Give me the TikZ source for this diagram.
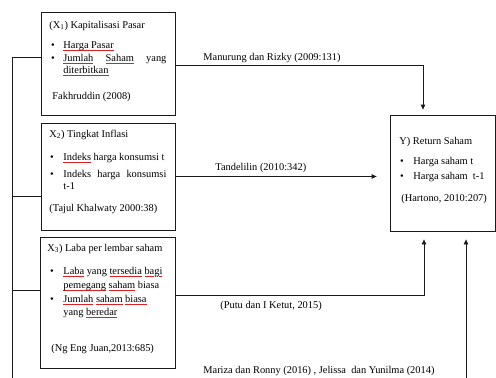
\documentclass[tikz,border=0pt]{standalone}
\usepackage{fontspec}
\setmainfont{Liberation Serif}
\usetikzlibrary{arrows.meta, positioning, calc}
\definecolor{cline}{HTML}{1A1A1A}
\definecolor{cwave}{HTML}{E02020}
\newsavebox\wavebox
\newcommand\redwave[1]{\sbox\wavebox{#1}\rlap{\textcolor{cwave}{\hbox to\wd\wavebox{\xleaders\hbox{\rule[-2.7pt]{0.9pt}{0.45pt}\rule[-2.2pt]{0.9pt}{0.45pt}}\hfil}}}\usebox\wavebox}
\tikzset{
  every picture/.style={font=\fontsize{10.4}{12}\selectfont, line width=0.8pt},
  box/.style={draw=cline, rectangle, inner sep=0pt},
  txt/.style={anchor=base west, inner sep=0pt},
  bul/.style={anchor=base, inner sep=0pt},
  arrow/.style={-{Triangle[length=5pt, width=4.5pt]}, draw=cline},
  link/.style={draw=cline},
}

\begin{document}
\begin{tikzpicture}[x=1pt, y=-1pt]
  \useasboundingbox (0,0) rectangle (496,378);
  % boxes
  \node[box, minimum width=134pt, minimum height=103pt] (x1) at (108,63.5) {};
  \node[box, minimum width=134pt, minimum height=107pt] (x2) at (108,176.5) {};
  \node[box, minimum width=135pt, minimum height=131pt] (x3) at (107.5,302.5) {};
  \node[box, minimum width=105pt, minimum height=116pt] (y) at (442.5,173) {};
  % X1
  \node[txt] (x1t) at (49,28) {(X\textsubscript{1}) Kapitalisasi Pasar};
  \node[bul] (x1b1) at (53,48) {\textbullet};
  \node[txt] (x1a) at (63,48) {\redwave{Harga Pasar}};
  \node[bul] (x1b2) at (53,61) {\textbullet};
  \node[txt] (x1b) at (63,61) {\hbox to 103pt{\redwave{Jumlah}\hfill\redwave{Saham}\hfill yang}};
  \node[txt] (x1c) at (63,73) {\redwave{diterbitkan}};
  \node[txt] (x1s) at (52,99) {Fakhruddin (2008)};
  % X2
  \node[txt] (x2t) at (49,137) {X\textsubscript{2}) Tingkat Inflasi};
  \node[bul] (x2b1) at (52,160) {\textbullet};
  \node[txt] (x2a) at (63,160) {\redwave{Indeks} harga konsumsi t};
  \node[bul] (x2b2) at (52,177) {\textbullet};
  \node[txt] (x2b) at (63,177) {\hbox to 103pt{Indeks\hfill harga\hfill konsumsi}};
  \node[txt] (x2c) at (63,189) {t-1};
  \node[txt] (x2s) at (49,211) {(Tajul Khalwaty 2000:38)};
  % X3
  \node[txt] (x3t) at (47,251) {X\textsubscript{3}) Laba per lembar saham};
  \node[bul] (x3b1) at (52,274) {\textbullet};
  \node[txt] (x3a) at (63,274) {\redwave{Laba} yang \redwave{tersedia} \redwave{bagi}};
  \node[txt] (x3b) at (63,288) {\redwave{pemegang} \redwave{saham} biasa};
  \node[bul] (x3b2) at (52,302) {\textbullet};
  \node[txt] (x3c) at (63,302) {\redwave{Jumlah} \redwave{saham} \redwave{biasa}};
  \node[txt] (x3d) at (63,315) {yang \redwave{beredar}};
  \node[txt] (x3s) at (51,351) {(Ng Eng Juan,2013:685)};
  % Y
  \node[txt] (yt) at (399,144) {Y) Return Saham};
  \node[bul] (yb1) at (402,164) {\textbullet};
  \node[txt] (ya) at (413,164) {Harga saham t};
  \node[bul] (yb2) at (402,179) {\textbullet};
  \node[txt] (yb) at (413,179) {Harga saham~ t-1};
  \node[txt] (ys) at (401,201) {(Hartono, 2010:207)};
  % labels
  \node[txt] (l1) at (203,60) {Manurung dan Rizky (2009:131)};
  \node[txt] (l2) at (215,170) {Tandelilin (2010:342)};
  \node[txt] (l3) at (220,308) {(Putu dan I Ketut, 2015)};
  \node[txt] (l4) at (203,373) {Mariza dan Ronny (2016) , Jelissa~ dan Yunilma (2014)};
  % connectors
  \coordinate (b1) at (12,57);
  \coordinate (b2) at (12,196);
  \coordinate (b3) at (12,290);
  \coordinate (b4) at (12,378);
  \draw[link] (b4) -- (b1) -- (b1 -| x1.west);
  \draw[link] (b2) -- (b2 -| x2.west);
  \draw[link] (b3) -- (b3 -| x3.west);
  \coordinate (r1) at (423,65);
  \coordinate (r3) at (424,295);
  \coordinate (r4) at (466,378);
  \draw[arrow, shorten >=5pt] (r1 -| x1.east) -- (r1) -- (r1 |- y.north);
  \draw[arrow, shorten >=13pt] (x2.east) -- (x2.east -| y.west);
  \draw[arrow, shorten >=8pt] (r3 -| x3.east) -- (r3) -- (r3 |- y.south);
  \draw[arrow, shorten >=8pt] (r4) -- (r4 |- y.south);
\end{tikzpicture}
\end{document}
